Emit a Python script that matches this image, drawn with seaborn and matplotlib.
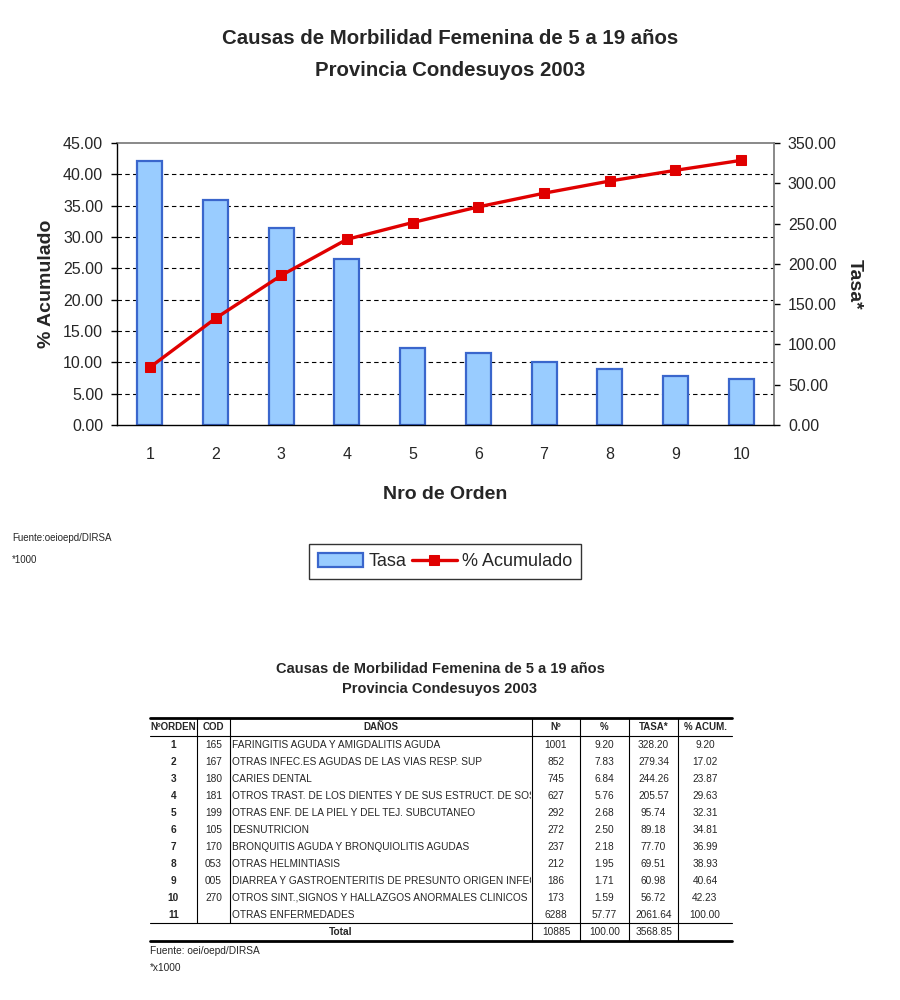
import numpy as np
import pandas as pd
import matplotlib
matplotlib.use("Agg")
import matplotlib.pyplot as plt
from matplotlib.patches import Rectangle
import seaborn as sns

# ---------------- data ----------------
orden = ["1", "2", "3", "4", "5", "6", "7", "8", "9", "10"]
tasa = [328.20, 279.34, 244.26, 205.57, 95.74, 89.18, 77.70, 69.51, 60.98, 56.72]
acumulado = [9.20, 17.02, 23.87, 29.63, 32.31, 34.81, 36.99, 38.93, 40.64, 42.23]

tab_orden = ["1", "2", "3", "4", "5", "6", "7", "8", "9", "10", "11"]
tab_cod = ["165", "167", "180", "181", "199", "105", "170", "053", "005", "270", ""]
tab_danos = [
    "FARINGITIS AGUDA Y AMIGDALITIS AGUDA",
    "OTRAS INFEC.ES AGUDAS DE LAS VIAS RESP. SUP",
    "CARIES DENTAL",
    "OTROS TRAST. DE LOS DIENTES Y DE SUS ESTRUCT. DE SOS",
    "OTRAS ENF. DE LA PIEL Y DEL TEJ. SUBCUTANEO",
    "DESNUTRICION",
    "BRONQUITIS AGUDA Y BRONQUIOLITIS AGUDAS",
    "OTRAS HELMINTIASIS",
    "DIARREA Y GASTROENTERITIS DE PRESUNTO ORIGEN INFECC",
    "OTROS SINT.,SIGNOS Y HALLAZGOS ANORMALES CLINICOS",
    "OTRAS ENFERMEDADES",
]
tab_n = ["1001", "852", "745", "627", "292", "272", "237", "212", "186", "173", "6288"]
tab_pct = ["9.20", "7.83", "6.84", "5.76", "2.68", "2.50", "2.18", "1.95", "1.71", "1.59", "57.77"]
tab_tasa = ["328.20", "279.34", "244.26", "205.57", "95.74", "89.18", "77.70", "69.51", "60.98", "56.72", "2061.64"]
tab_acum = ["9.20", "17.02", "23.87", "29.63", "32.31", "34.81", "36.99", "38.93", "40.64", "42.23", "100.00"]
tab_header = ["NºORDEN", "COD", "DAÑOS", "Nº", "%", "TASA*", "% ACUM."]
tab_total = ["Total", "10885", "100.00", "3568.85", ""]

# ---------------- style ----------------
sns.set_style("white")
plt.rcParams["font.family"] = ["Liberation Sans", "DejaVu Sans"]

fig = plt.figure(figsize=(9, 10), dpi=100)
W, H = 900, 1000

axB = fig.add_axes([117 / W, 1 - 425 / H, (774 - 117) / W, (425 - 143) / H])
axL = axB.twinx()

df = pd.DataFrame({"orden": orden, "tasa": tasa})
sns.barplot(data=df, x="orden", y="tasa", ax=axB, color="#99CCFF",
            edgecolor="#3A66CC", linewidth=1.6, width=0.38, saturation=1)
axB.set_ylim(0, 350)
axB.set_xlim(-0.5, 9.5)
axB.yaxis.tick_right()
axB.yaxis.set_label_position("right")
axB.set_yticks(np.arange(0, 351, 50))
axB.set_yticklabels([f"{v:.2f}" for v in np.arange(0, 351, 50)])
# grid at the left-axis (0..45 step 5) positions
axB.set_yticks(np.linspace(0, 350, 10)[1:-1], minor=True)
axB.grid(which="minor", axis="y", color="black", linestyle=(0, (4, 3)), linewidth=0.8)
axB.grid(which="major", visible=False)
axB.set_axisbelow(True)
axB.tick_params(axis="y", which="minor", length=0)
axB.tick_params(axis="y", which="major", direction="out", length=4, width=1,
                color="black", labelsize=11.5, pad=6, right=True, left=False)
axB.tick_params(axis="x", length=0, labelsize=11.5, pad=16)
axB.set_xlabel("Nro de Orden", fontsize=14, fontweight="bold", labelpad=17)
axB.set_ylabel("Tasa*", fontsize=14, fontweight="bold", rotation=270, labelpad=19)
for s in ["top", "right"]:
    axB.spines[s].set_color("#808080")
    axB.spines[s].set_linewidth(1.3)
for s in ["left", "bottom"]:
    axB.spines[s].set_color("black")
    axB.spines[s].set_linewidth(1.0)

sns.lineplot(x=np.arange(len(acumulado)), y=acumulado, ax=axL, color="#E00000",
             linewidth=2.4, marker="s", markersize=7.5, markeredgecolor="#E00000",
             markerfacecolor="#E00000")
axL.set_xlim(-0.5, 9.5)
axL.set_ylim(0, 45)
axL.yaxis.tick_left()
axL.yaxis.set_label_position("left")
axL.set_yticks(np.arange(0, 46, 5))
axL.set_yticklabels([f"{v:.2f}" for v in np.arange(0, 46, 5)])
axL.tick_params(axis="y", direction="out", length=4, width=1, color="black",
                labelsize=11.5, pad=6, left=True, right=False)
axL.set_ylabel("% Acumulado", fontsize=14, fontweight="bold", labelpad=6)
for s in axL.spines.values():
    s.set_visible(False)

# titles
fig.text(0.5, 1 - 38 / H, "Causas de Morbilidad Femenina de 5 a 19 años",
         ha="center", va="center", fontsize=14.7, fontweight="bold")
fig.text(0.5, 1 - 70 / H, "Provincia Condesuyos 2003",
         ha="center", va="center", fontsize=14.7, fontweight="bold")

# legend
bar_h = axB.patches[0]
line_h = axL.lines[0]
leg = fig.legend([bar_h, line_h], ["Tasa", "% Acumulado"], loc="center",
                 bbox_to_anchor=(445 / W, 1 - 561.5 / H), ncol=2, fontsize=13,
                 frameon=True, fancybox=False, edgecolor="black",
                 handlelength=2.5, handleheight=0.8, columnspacing=0.3,
                 handletextpad=0.3, borderpad=0.5)
leg.get_frame().set_linewidth(1.0)

fig.text(12 / W, 1 - 538 / H, "Fuente:oeioepd/DIRSA", fontsize=7, va="center")
fig.text(12 / W, 1 - 560 / H, "*1000", fontsize=7, va="center")

# ---------------- table ----------------
tx = fig.add_axes([0, 0, 1, 1])
tx.set_xlim(0, W)
tx.set_ylim(H, 0)
tx.axis("off")

tx.text(440, 669, "Causas de Morbilidad Femenina de 5 a 19 años", ha="center",
        va="center", fontsize=10.5, fontweight="bold")
tx.text(440, 689, "Provincia Condesuyos 2003", ha="center", va="center",
        fontsize=10.5, fontweight="bold")

edges = [150, 197, 230, 532, 580, 629, 678, 732]
y_top, y_head, y_tot, y_bot = 718, 736, 923, 941
fs = 7.3

tx.plot([edges[0], edges[-1]], [y_top, y_top], color="black", lw=2.0)
tx.plot([edges[0], edges[-1]], [y_head, y_head], color="black", lw=0.8)
tx.plot([edges[0], edges[-1]], [y_tot, y_tot], color="black", lw=0.8)
tx.plot([edges[0], edges[-1]], [y_bot, y_bot], color="black", lw=2.0)
for xe in edges[1:3]:
    tx.plot([xe, xe], [y_top, y_tot], color="black", lw=0.8)
for xe in edges[3:7]:
    tx.plot([xe, xe], [y_top, y_bot], color="black", lw=0.8)

centers = [(edges[i] + edges[i + 1]) / 2 for i in range(7)]
for i, h in enumerate(tab_header):
    tx.text(centers[i], 727, h, ha="center", va="center", fontsize=fs - 0.3,
            fontweight="bold")

clip = Rectangle((edges[2], y_head), edges[3] - edges[2] - 1, y_tot - y_head,
                 transform=tx.transData, visible=False)
tx.add_patch(clip)
for r in range(len(tab_orden)):
    y = 745 + 17 * r
    tx.text(centers[0], y, tab_orden[r], ha="center", va="center", fontsize=fs,
            fontweight="bold")
    tx.text(centers[1], y, tab_cod[r], ha="center", va="center", fontsize=fs)
    t = tx.text(edges[2] + 2, y, tab_danos[r], ha="left", va="center", fontsize=fs)
    t.set_clip_on(True)
    t.set_clip_path(clip)
    tx.text(centers[3], y, tab_n[r], ha="center", va="center", fontsize=fs)
    tx.text(centers[4], y, tab_pct[r], ha="center", va="center", fontsize=fs)
    tx.text(centers[5], y, tab_tasa[r], ha="center", va="center", fontsize=fs)
    tx.text(centers[6], y, tab_acum[r], ha="center", va="center", fontsize=fs)

tx.text((edges[0] + edges[3]) / 2, 932, tab_total[0], ha="center", va="center",
        fontsize=fs, fontweight="bold")
for i in range(1, 5):
    tx.text(centers[2 + i], 932, tab_total[i], ha="center", va="center", fontsize=fs)

tx.text(150, 951, "Fuente: oei/oepd/DIRSA", ha="left", va="center", fontsize=fs)
tx.text(150, 968, "*x1000", ha="left", va="center", fontsize=fs)

fig.savefig("out.png", dpi=100)
